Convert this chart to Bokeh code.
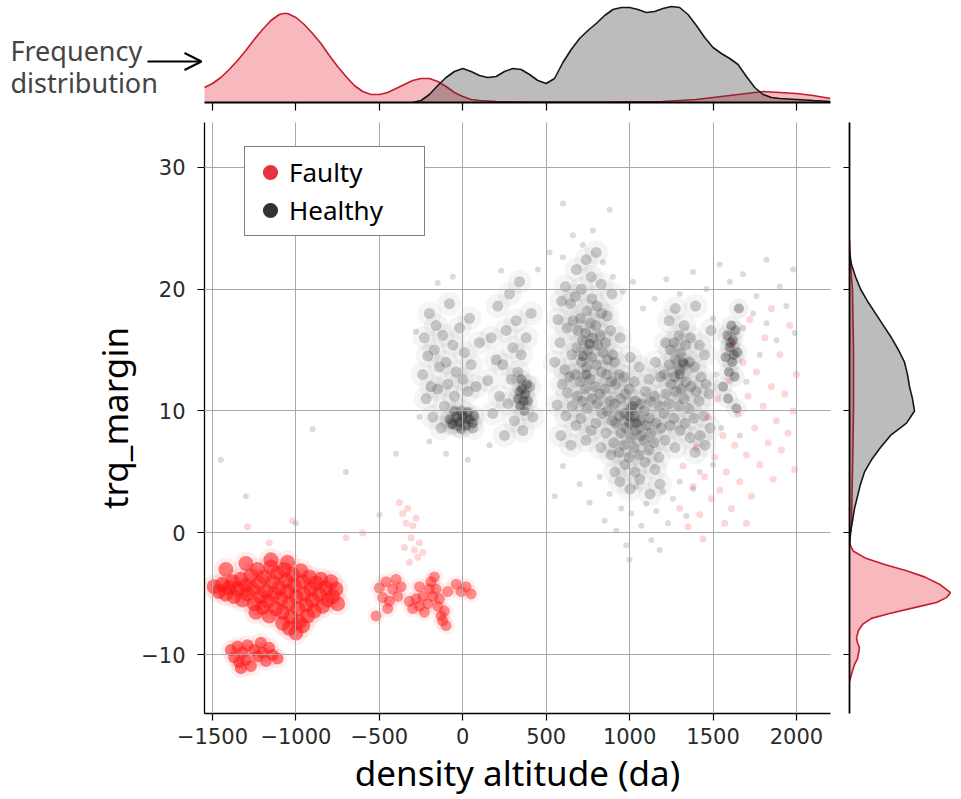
import numpy as np
from bokeh.plotting import figure
from bokeh.layouts import column, row
from bokeh.models import (ColumnDataSource, Range1d, Legend, LegendItem, Label,
                          Arrow, OpenHead, FixedTicker, CustomJSTickFormatter)
from bokeh.embed import file_html
from bokeh.resources import INLINE

# ---------------- data ----------------
x_ticks = [-1500, -1000, -500, 0, 500, 1000, 1500, 2000]
x_tick_labels = ["−1500", "−1000", "−500", "0", "500", "1000", "1500", "2000"]
y_ticks = [-10, 0, 10, 20, 30]
y_tick_labels = ["−10", "0", "10", "20", "30"]
x_limits = [-1548, 2204]
y_limits = [-14.8, 33.65]

# Faulty: dense cluster around (-1100, -5)
faulty_main = [
    (-1490, -4.4), (-1460, -4.8), (-1440, -4.2), (-1420, -5.0), (-1400, -4.5), (-1380, -4.0),
    (-1370, -5.2), (-1350, -4.6), (-1330, -3.8), (-1320, -5.5), (-1300, -4.3), (-1290, -5.0),
    (-1270, -3.5), (-1260, -4.6), (-1250, -5.8), (-1240, -6.5), (-1230, -3.0), (-1220, -4.1),
    (-1210, -5.2), (-1200, -6.1), (-1190, -3.6), (-1180, -4.8), (-1170, -5.6), (-1160, -6.8),
    (-1150, -2.8), (-1140, -4.0), (-1130, -5.0), (-1120, -6.2), (-1110, -3.3), (-1100, -4.5),
    (-1090, -5.4), (-1080, -6.5), (-1070, -3.0), (-1060, -3.9), (-1050, -4.8), (-1040, -5.8),
    (-1030, -6.9), (-1020, -3.4), (-1010, -4.3), (-1000, -5.2), (-990, -6.2), (-980, -7.3),
    (-970, -3.1), (-960, -4.0), (-950, -5.0), (-940, -5.9), (-930, -6.8), (-920, -3.6),
    (-910, -4.6), (-900, -5.5), (-890, -6.4), (-880, -4.1), (-860, -5.0), (-850, -3.8),
    (-840, -6.0), (-820, -4.5), (-810, -5.5), (-790, -4.0), (-780, -5.2), (-760, -4.6),
    (-750, -5.8), (-1040, -7.8), (-1000, -8.2), (-960, -7.6), (-1080, -7.4), (-1300, -2.5),
    (-1150, -2.2), (-1050, -2.4), (-1420, -3.0),
]
# Faulty: small cluster near (-1280, -10)
faulty_low = [
    (-1390, -9.6), (-1370, -10.2), (-1350, -9.3), (-1340, -10.6), (-1320, -9.8), (-1300, -10.4),
    (-1290, -9.2), (-1270, -10.9), (-1250, -9.6), (-1230, -10.1), (-1210, -9.0), (-1200, -9.8),
    (-1180, -10.5), (-1160, -9.4), (-1140, -10.0), (-1110, -10.3), (-1330, -11.1),
]
# Faulty: group between -520 and 60
faulty_mid = [
    (-500, -4.5), (-480, -5.3), (-460, -4.0), (-440, -5.6), (-420, -4.6), (-400, -3.8),
    (-390, -5.2), (-370, -4.4), (-450, -6.2), (-520, -6.8),
    (-320, -5.6), (-300, -6.2), (-280, -5.4), (-260, -6.0), (-240, -5.2), (-230, -6.5),
    (-210, -5.8), (-200, -4.6), (-190, -4.0), (-180, -5.2), (-170, -3.6), (-160, -4.6),
    (-150, -6.0), (-140, -5.4), (-130, -6.8), (-120, -7.2), (-110, -6.4), (-100, -7.6),
    (-90, -4.8), (-260, -4.4), (-40, -4.2), (-10, -4.8), (20, -4.4), (50, -5.0),
]
# Faulty: faint points (streak near -300 and spread at 1300..2000)
faulty_faint = [
    (-380, 2.5), (-360, 1.6), (-340, 0.8), (-330, 2.0), (-310, -0.4), (-300, 0.6), (-290, -1.4),
    (-280, 1.2), (-270, -2.0), (-260, -0.8), (-240, -1.6), (-350, -1.2), (-320, -2.4),
    (-1290, 0.5), (-1160, -0.8), (-1020, 1.0), (-700, -0.4), (-600, 0.0),
    (1300, 2.0), (1320, 5.5), (1350, 0.5), (1380, 3.8), (1400, 7.0), (1420, 1.5), (1450, 4.6),
    (1470, 9.5), (1490, 2.8), (1510, 6.2), (1530, 11.0), (1540, 3.5), (1560, 8.0), (1580, 5.0),
    (1600, 12.5), (1610, 2.0), (1630, 7.2), (1650, 9.8), (1660, 4.2), (1680, 14.0), (1700, 6.4),
    (1710, 11.2), (1730, 3.0), (1750, 8.6), (1760, 13.2), (1780, 5.6), (1800, 10.4), (1810, 16.0),
    (1830, 7.4), (1850, 12.0), (1860, 4.4), (1880, 9.2), (1900, 14.6), (1910, 6.8), (1930, 11.4),
    (1950, 8.2), (1960, 17.0), (1980, 10.0), (1990, 5.2), (2000, 13.0), (1720, 17.5), (1850, 18.4),
    (1620, 15.5), (1570, 0.8), (1440, -0.5), (1700, 0.8),
]

# Healthy: main body of points
healthy_body = [
    # around 0
    (-240, 13.0), (-230, 16.0), (-220, 11.0), (-210, 14.5), (-200, 18.0), (-190, 12.0), (-180, 9.5),
    (-170, 15.0), (-160, 17.0), (-150, 11.8), (-140, 13.6), (-130, 8.6), (-120, 16.2), (-110, 10.4),
    (-100, 14.0), (-90, 12.2), (-80, 18.8), (-70, 9.0), (-60, 15.4), (-50, 11.2), (-40, 13.2),
    (-30, 8.8), (-20, 16.8), (-10, 10.0), (0, 12.6), (10, 14.8), (20, 9.4), (30, 11.6), (40, 17.6),
    (50, 13.8), (60, 8.6), (80, 12.0), (100, 15.6),
    # around 300
    (150, 12.5), (170, 16.0), (180, 9.8), (200, 14.2), (210, 18.6), (220, 11.2), (240, 13.8),
    (250, 8.0), (260, 16.6), (270, 10.6), (280, 19.6), (290, 12.6), (300, 15.2), (310, 9.2),
    (320, 17.4), (330, 13.2), (340, 20.6), (350, 14.6), (360, 8.4), (380, 16.0), (400, 12.0),
    (410, 18.0), (420, 9.5),
    # 550..900
    (565, 10.5), (552, 14.0), (571, 17.5), (588, 8.0), (596, 12.2), (583, 15.6), (592, 19.0),
    (618, 9.6), (627, 11.5), (612, 13.4), (624, 16.8), (615, 20.2), (648, 7.2), (657, 10.4),
    (642, 12.8), (653, 14.6), (661, 17.4), (646, 18.8), (678, 8.8), (686, 11.2), (672, 13.0),
    (683, 15.2), (690, 16.6), (675, 19.4), (681, 21.6), (708, 9.4), (716, 10.8), (703, 12.4),
    (712, 14.0), (719, 15.8), (705, 17.6), (711, 20.0), (738, 7.6), (745, 10.2), (733, 11.8),
    (742, 13.6), (749, 15.0), (736, 16.4), (744, 18.2), (740, 22.4), (768, 8.4), (776, 11.0),
    (763, 12.6), (772, 14.4), (779, 16.0), (766, 17.2), (774, 19.2), (770, 21.0), (798, 9.0),
    (806, 10.6), (793, 12.0), (802, 13.8), (809, 15.4), (796, 17.0), (804, 18.6), (800, 23.0),
    (828, 7.0), (836, 9.8), (823, 11.4), (832, 13.2), (839, 14.8), (826, 16.2), (834, 18.0),
    (830, 20.4), (858, 8.2), (866, 10.0), (853, 11.8), (862, 13.0), (869, 14.2), (856, 15.6),
    (864, 17.8), (888, 6.4), (896, 9.2), (883, 10.8), (892, 12.4), (899, 14.6), (886, 16.6),
    (894, 19.6),
    # 900..1200
    (912, 5.0), (905, 7.4), (918, 9.0), (908, 10.6), (915, 12.2), (910, 14.0), (942, 4.2),
    (936, 6.6), (948, 8.2), (939, 9.6), (945, 11.0), (937, 13.0), (944, 16.0), (972, 5.6),
    (966, 7.2), (978, 8.6), (969, 9.8), (975, 11.4), (967, 12.8), (1002, 3.6), (996, 6.2),
    (1008, 7.8), (999, 9.0), (1005, 10.2), (997, 11.8), (1004, 14.4), (1032, 5.0), (1026, 7.0),
    (1038, 8.4), (1029, 9.6), (1035, 10.8), (1027, 12.4), (1062, 4.4), (1056, 6.4), (1068, 8.0),
    (1059, 9.2), (1065, 10.6), (1057, 13.6), (1092, 5.8), (1086, 7.6), (1098, 8.8), (1089, 10.0),
    (1095, 11.6), (1122, 3.2), (1116, 6.8), (1128, 8.2), (1119, 9.4), (1125, 10.8), (1117, 12.6),
    (1152, 5.2), (1146, 7.4), (1158, 9.0), (1149, 11.2), (1155, 14.0), (1182, 4.0), (1176, 6.2),
    (1188, 8.6), (1179, 10.4), (1185, 12.8),
    # 1200..1500
    (1212, 7.6), (1206, 9.8), (1218, 11.4), (1209, 13.0), (1215, 15.6), (1242, 8.8), (1236, 10.6),
    (1248, 12.2), (1239, 13.8), (1245, 15.0), (1237, 17.4), (1272, 7.0), (1266, 9.4), (1278, 11.6),
    (1269, 12.8), (1275, 14.2), (1267, 15.6), (1274, 18.4), (1302, 8.4), (1296, 10.4), (1308, 11.8),
    (1299, 13.4), (1305, 14.8), (1297, 16.2), (1332, 9.0), (1326, 11.0), (1338, 12.4), (1329, 13.8),
    (1335, 15.4), (1327, 17.0), (1362, 7.8), (1356, 10.2), (1368, 12.0), (1359, 14.0), (1365, 16.0),
    (1392, 6.6), (1386, 9.4), (1398, 11.6), (1389, 13.6), (1395, 18.6), (1422, 8.0), (1416, 10.8),
    (1428, 12.8), (1419, 15.4), (1452, 7.2), (1446, 9.6), (1458, 12.2), (1449, 14.6), (1482, 8.6),
    (1476, 11.4), (1488, 16.6),
]
# Healthy: darker knots
healthy_dense = [
    (-80, 9.3), (-60, 8.9), (-40, 9.5), (-20, 9.1), (0, 9.6), (20, 8.8), (40, 9.3), (60, 9.0),
    (-10, 8.5), (30, 9.9), (-50, 10.0), (70, 9.6),
    (330, 11.0), (345, 10.4), (355, 11.8), (365, 10.8), (375, 11.4), (385, 12.2), (350, 12.6),
    (370, 10.0), (340, 11.6), (390, 10.8),
    (1560, 12.0), (1575, 14.4), (1585, 16.2), (1595, 13.2), (1600, 15.2), (1610, 17.0),
    (1615, 14.0), (1620, 15.8), (1630, 12.8), (1635, 16.6), (1645, 14.8), (1655, 18.4),
    (1590, 11.0), (1640, 10.2), (1605, 15.6), (1625, 14.6),
    (720, 14.5), (760, 15.5), (740, 13.0), (1000, 9.5), (1040, 9.0), (1020, 10.4), (1300, 13.0),
    (1320, 14.0),
]
# Healthy: sparse outliers
healthy_sparse = [
    (-150, 20.5), (-60, 21.0), (-200, 7.5), (-100, 6.5), (30, 6.0), (-260, 9.5), (-280, 16.5),
    (230, 21.5), (160, 7.2),
    (700, 4.0), (760, 2.5), (820, 4.6), (850, 1.0), (880, 3.2), (920, 0.2), (950, 2.0), (980, -1.0),
    (1010, 1.6), (1040, 3.8), (1070, 0.6), (1100, 2.4), (1130, -0.6), (1160, 1.8), (1200, 3.4),
    (1230, 0.8), (1260, 2.8), (1300, 4.2), (1340, 1.4), (1380, 3.6), (1000, -2.2), (1180, -1.4),
    (600, 5.5), (550, 3.0), (1420, 5.0),
    (450, 21.6), (520, 23.0), (600, 22.6), (660, 24.4), (720, 23.6), (780, 24.8), (840, 22.2),
    (900, 21.0), (960, 19.8), (1020, 20.6), (1080, 18.4), (1150, 19.2), (1220, 20.8), (1300, 19.6),
    (1380, 21.4), (1460, 20.0), (1540, 22.0), (1600, 20.6), (1680, 21.2), (1760, 19.4), (1820, 22.4),
    (1900, 20.2), (1980, 21.6), (880, 26.5), (600, 27.0),
    (1500, 17.6), (1520, 13.0), (1550, 8.6), (1680, 16.8), (1700, 12.4), (1740, 18.0), (1780, 14.6),
    (1820, 17.2), (1880, 15.8), (1940, 18.6), (1990, 16.4), (1660, 8.0), (1500, 5.6),
    (-1450, 6.0), (-1300, 3.0), (-900, 8.5), (-700, 5.0), (-500, 1.5), (-400, 6.5), (-1000, 0.8),
]

# Marginal frequency distributions (relative heights)
top_faulty_x = [-1548, -1500, -1450, -1400, -1350, -1300, -1250, -1200, -1150, -1100, -1075, -1050,
                -1000, -950, -900, -850, -800, -750, -700, -650, -600, -550, -500, -450, -400, -350,
                -300, -250, -200, -150, -100, -50, 0, 50, 100, 200, 400, 800, 1200, 1400, 1500, 1600,
                1700, 1800, 1900, 2000, 2100, 2204]
top_faulty_h = [0.15, 0.19, 0.25, 0.33, 0.42, 0.52, 0.63, 0.73, 0.82, 0.88, 0.89, 0.89,
                0.85, 0.78, 0.69, 0.59, 0.47, 0.36, 0.26, 0.17, 0.11, 0.08, 0.08, 0.10, 0.14, 0.18,
                0.22, 0.24, 0.24, 0.21, 0.16, 0.10, 0.06, 0.03, 0.02, 0.01, 0.005, 0.005, 0.01, 0.03,
                0.05, 0.07, 0.09, 0.11, 0.10, 0.09, 0.07, 0.04]
top_healthy_x = [-300, -250, -200, -150, -100, -50, 0, 50, 100, 150, 200, 250, 300, 350, 400, 450,
                 500, 550, 600, 650, 700, 750, 800, 850, 900, 950, 1000, 1050, 1100, 1150, 1200, 1250,
                 1300, 1350, 1400, 1450, 1500, 1550, 1600, 1650, 1700, 1750, 1800, 1850, 1900, 2000,
                 2100, 2204]
top_healthy_h = [0.0, 0.02, 0.08, 0.17, 0.25, 0.31, 0.34, 0.31, 0.27, 0.25, 0.26, 0.31, 0.34, 0.33,
                 0.28, 0.22, 0.19, 0.24, 0.40, 0.53, 0.64, 0.72, 0.79, 0.87, 0.93, 0.95, 0.95, 0.93,
                 0.90, 0.91, 0.94, 0.96, 0.95, 0.88, 0.77, 0.65, 0.55, 0.49, 0.44, 0.38, 0.26, 0.15,
                 0.08, 0.05, 0.04, 0.03, 0.02, 0.01]
right_healthy_y = [23, 22, 21, 20, 19, 18, 17, 16, 15, 14, 13, 12, 11, 10, 9, 8, 7, 6, 5, 4, 3, 2,
                   1, 0, -1]
right_healthy_w = [0.0, 0.02, 0.06, 0.11, 0.18, 0.26, 0.34, 0.42, 0.49, 0.55, 0.58, 0.60, 0.63,
                   0.65, 0.57, 0.41, 0.31, 0.22, 0.15, 0.11, 0.08, 0.05, 0.03, 0.01, 0.0]
right_faulty_y = [24, 22, 20, 15, 10, 5, 1, 0, -0.8, -1.05, -1.5, -2.1, -2.6, -3.1, -3.6, -4.2,
                  -4.9, -5.3, -5.7, -6.1, -6.6, -7.0, -7.5, -8.0, -8.6, -9.0, -9.4, -9.9, -10.3,
                  -10.8, -11.3, -12.2]
right_faulty_w = [0.0, 0.01, 0.03, 0.04, 0.04, 0.03, 0.02, 0.01, 0.0, 0.01, 0.04, 0.17, 0.36, 0.57,
                  0.75, 0.90, 1.01, 0.97, 0.87, 0.66, 0.40, 0.22, 0.13, 0.09, 0.07, 0.08, 0.10, 0.09,
                  0.08, 0.05, 0.03, 0.0]

# ---------------- styling ----------------
RED = "#ff1414"
BLACK = "#1e1e1e"
KDE_RED_FILL = "#e8283a"
KDE_RED_LINE = "#c41c30"
KDE_GREY_FILL = "#333333"
KDE_GREY_LINE = "#161616"
TICK_FONT = "DejaVu Sans"
TEXT_FONT = "Noto Sans"

MAIN_W, MAIN_H = 838, 679
FRAME_L, FRAME_R, FRAME_T, FRAME_B = 204, 8, 2, 86
TOP_H = 120
frame_w = MAIN_W - FRAME_L - FRAME_R
frame_h = MAIN_H - FRAME_T - FRAME_B


def src(pairs):
    return ColumnDataSource(dict(x=[p[0] for p in pairs], y=[p[1] for p in pairs]))


def style_common(p):
    p.outline_line_color = None
    p.background_fill_color = "white"
    p.border_fill_color = "white"


# ---------------- main scatter ----------------
main = figure(width=MAIN_W, height=MAIN_H, x_range=Range1d(*x_limits), y_range=Range1d(*y_limits),
              output_backend="svg", toolbar_location=None,
              min_border_left=FRAME_L, min_border_right=FRAME_R,
              min_border_top=FRAME_T, min_border_bottom=FRAME_B)
style_common(main)

s_ff, s_fm, s_fl, s_fmid = src(faulty_faint), src(faulty_main), src(faulty_low), src(faulty_mid)
s_hs, s_hb, s_hd = src(healthy_sparse), src(healthy_body), src(healthy_dense)

# soft halo layers (same points, larger and very transparent) to give a cloud look
main.scatter("x", "y", source=s_fm, size=24, color=RED, alpha=0.07, line_color=None)
main.scatter("x", "y", source=s_fl, size=20, color=RED, alpha=0.07, line_color=None)
main.scatter("x", "y", source=s_fmid, size=18, color=RED, alpha=0.06, line_color=None)
main.scatter("x", "y", source=s_hb, size=24, color=BLACK, alpha=0.045, line_color=None)
main.scatter("x", "y", source=s_hd, size=20, color=BLACK, alpha=0.06, line_color=None)
# points
main.scatter("x", "y", source=s_ff, size=7, color=RED, alpha=0.18, line_color=None)
main.scatter("x", "y", source=s_fm, size=15, color=RED, alpha=0.55, line_color=None)
main.scatter("x", "y", source=s_fl, size=12, color=RED, alpha=0.55, line_color=None)
main.scatter("x", "y", source=s_fmid, size=11, color=RED, alpha=0.45, line_color=None)
main.scatter("x", "y", source=s_hs, size=6, color=BLACK, alpha=0.16, line_color=None)
main.scatter("x", "y", source=s_hb, size=11, color=BLACK, alpha=0.21, line_color=None)
main.scatter("x", "y", source=s_hd, size=10, color=BLACK, alpha=0.32, line_color=None)

for ax, ticks, labels in ((main.xaxis, x_ticks, x_tick_labels), (main.yaxis, y_ticks, y_tick_labels)):
    ax.ticker = FixedTicker(ticks=ticks)
    ax.major_label_overrides = {t: l for t, l in zip(ticks, labels)}
    ax.axis_line_color = "black"
    ax.axis_line_width = 1.3
    ax.major_tick_line_color = "black"
    ax.major_tick_line_width = 1.2
    ax.major_tick_out = 7
    ax.major_tick_in = 0
    ax.minor_tick_line_color = None
    ax.major_label_text_font = TICK_FONT
    ax.major_label_text_font_size = "21px"
    ax.major_label_text_color = "#2a2a2a"
    ax.axis_label_text_font = TEXT_FONT
    ax.axis_label_text_font_size = "35px"
    ax.axis_label_text_font_style = "normal"
    ax.axis_label_text_color = "black"

main.xaxis.axis_label = "density altitude (da)"
main.yaxis.axis_label = "trq_margin"
main.xaxis.major_label_standoff = 7
main.yaxis.major_label_standoff = 12
main.xaxis.axis_label_standoff = 2
main.yaxis.axis_label_standoff = 0

for g in (main.xgrid, main.ygrid):
    g.grid_line_color = "#a9a9a9"
    g.grid_line_width = 1
    g.level = "annotation"

leg_f = main.scatter(x=[np.nan], y=[np.nan], size=18, color="#e8323f", line_color=None)
leg_h = main.scatter(x=[np.nan], y=[np.nan], size=18, color="#333333", line_color=None)
legend = Legend(items=[LegendItem(label="Faulty", renderers=[leg_f]),
                       LegendItem(label="Healthy", renderers=[leg_h])],
                location=(40, frame_h - 114))
legend.label_text_font = TEXT_FONT
legend.label_text_font_size = "26px"
legend.label_text_color = "black"
legend.glyph_width = 38
legend.glyph_height = 38
legend.spacing = 0
legend.padding = 6
legend.margin = 0
legend.label_standoff = 0
legend.label_width = 129
legend.label_height = 30
legend.border_line_color = "black"
legend.border_line_width = 1.3
legend.background_fill_color = "white"
legend.background_fill_alpha = 1.0
main.add_layout(legend)

# ---------------- top marginal ----------------
x_per_px = (x_limits[1] - x_limits[0]) / frame_w
top = figure(width=961, height=TOP_H,
             x_range=Range1d(x_limits[0] - FRAME_L * x_per_px, x_limits[1]),
             y_range=Range1d(0, 1.02), output_backend="svg", toolbar_location=None,
             min_border_left=0, min_border_right=961 - MAIN_W + FRAME_R,
             min_border_top=0, min_border_bottom=18)
style_common(top)
top.grid.visible = False
top.yaxis.visible = False
top.varea(x=top_faulty_x, y1=0, y2=top_faulty_h, fill_color=KDE_RED_FILL, fill_alpha=0.33)
top.line(top_faulty_x, top_faulty_h, line_color=KDE_RED_LINE, line_width=1.6)
top.varea(x=top_healthy_x, y1=0, y2=top_healthy_h, fill_color=KDE_GREY_FILL, fill_alpha=0.33)
top.line(top_healthy_x, top_healthy_h, line_color=KDE_GREY_LINE, line_width=1.6)
tx = top.xaxis[0]
tx.bounds = tuple(x_limits)
tx.ticker = FixedTicker(ticks=x_ticks)
tx.formatter = CustomJSTickFormatter(code="return ''")
tx.major_label_text_font_size = "1px"
tx.major_label_standoff = 0
tx.axis_line_color = "black"
tx.axis_line_width = 1.8
tx.major_tick_out = 8
tx.major_tick_in = 0
tx.major_tick_line_width = 1.2
tx.minor_tick_line_color = None

top.add_layout(Label(x=10, y=52, x_units="screen", y_units="screen", text="Frequency",
                     text_font=TEXT_FONT, text_font_size="27px", text_baseline="middle"))
top.add_layout(Label(x=10, y=20, x_units="screen", y_units="screen", text="distribution",
                     text_font=TEXT_FONT, text_font_size="27px", text_baseline="middle"))
top.add_layout(Arrow(end=OpenHead(size=17, line_width=2, line_color="black"),
                     x_start=147, y_start=41, x_end=201, y_end=41,
                     start_units="screen", end_units="screen", line_width=2, line_color="black"))

# ---------------- right marginal ----------------
right = figure(width=961 - MAIN_W, height=MAIN_H, x_range=Range1d(0, 1.12), y_range=main.y_range,
               output_backend="svg", toolbar_location=None,
               min_border_left=11, min_border_right=0, min_border_top=FRAME_T,
               min_border_bottom=FRAME_B)
style_common(right)
right.grid.visible = False
right.xaxis.visible = False
right.harea(y=right_faulty_y, x1=0, x2=right_faulty_w, fill_color=KDE_RED_FILL, fill_alpha=0.33)
right.line(right_faulty_w, right_faulty_y, line_color=KDE_RED_LINE, line_width=1.6)
right.harea(y=right_healthy_y, x1=0, x2=right_healthy_w, fill_color=KDE_GREY_FILL, fill_alpha=0.33)
right.line(right_healthy_w, right_healthy_y, line_color=KDE_GREY_LINE, line_width=1.6)
ry = right.yaxis[0]
ry.ticker = FixedTicker(ticks=y_ticks)
ry.formatter = CustomJSTickFormatter(code="return ''")
ry.major_label_text_font_size = "1px"
ry.major_label_standoff = 0
ry.axis_line_color = "black"
ry.axis_line_width = 1.8
ry.major_tick_out = 6
ry.major_tick_in = 0
ry.major_tick_line_width = 1.2
ry.minor_tick_line_color = None

layout = column(top, row(main, right, spacing=0), spacing=0)
open("out.html", "w").write(file_html(layout, INLINE))
